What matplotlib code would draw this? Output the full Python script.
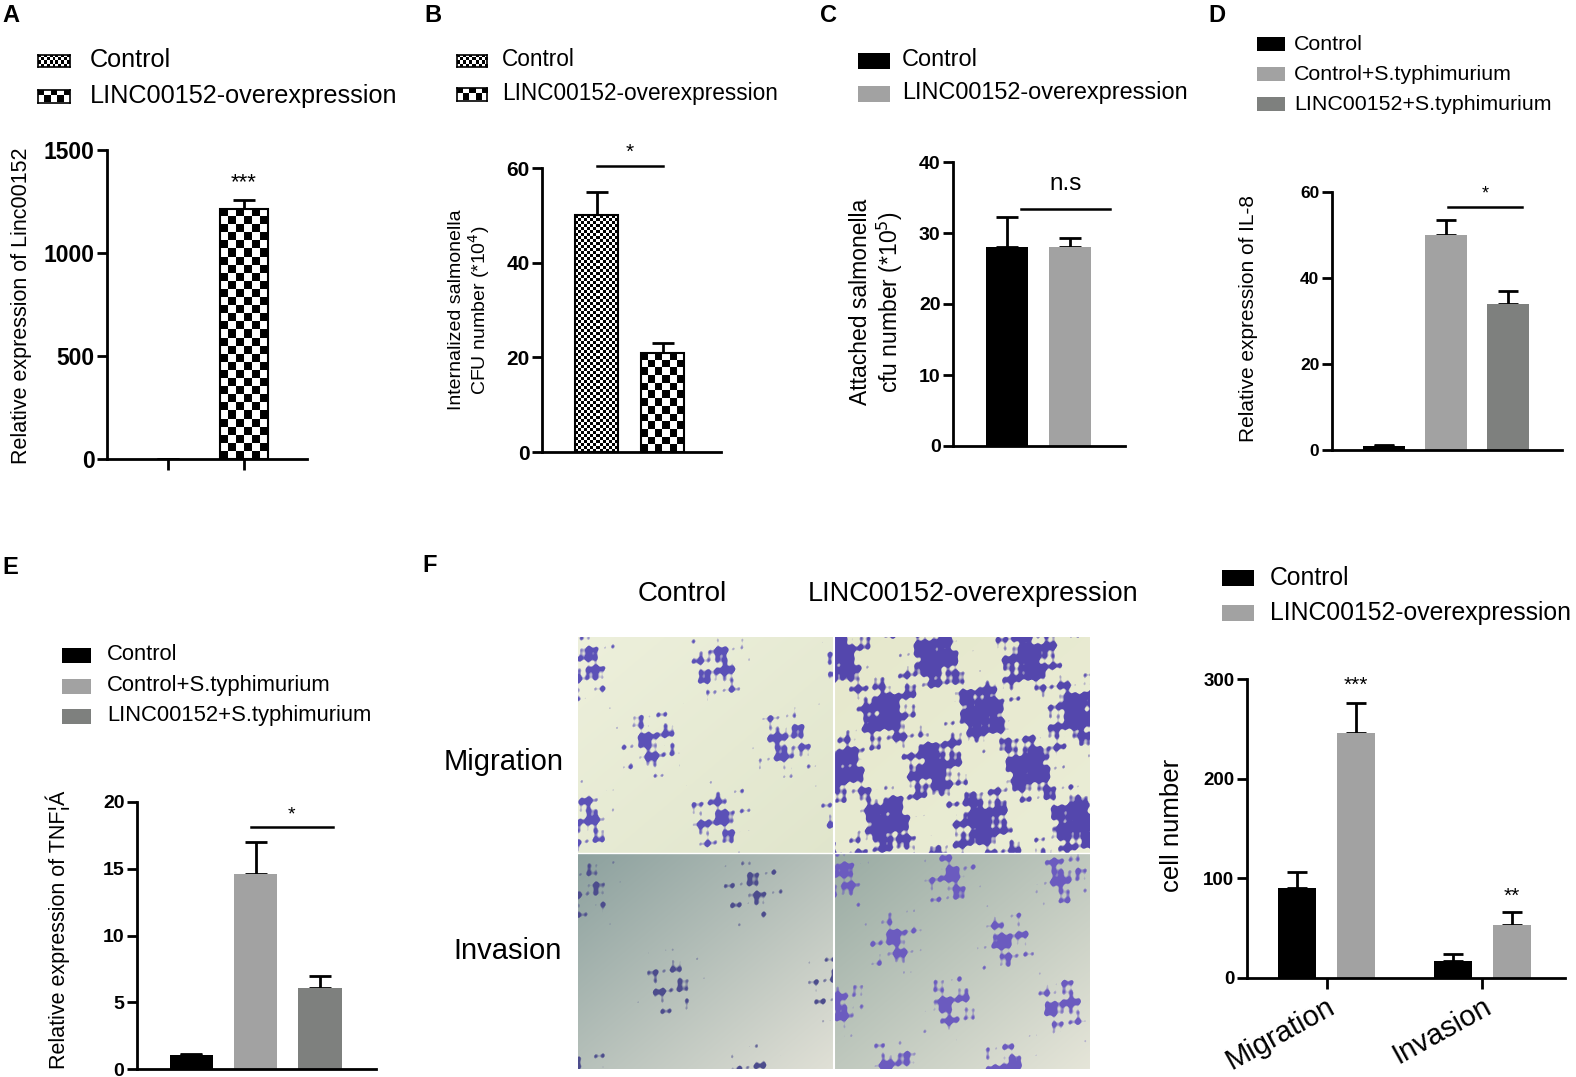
import numpy as np
import matplotlib
matplotlib.use("Agg")
import matplotlib.pyplot as plt
from matplotlib.patches import Rectangle

plt.rcParams["font.family"] = ["Liberation Sans", "DejaVu Sans"]

W, H = 1576, 1077
fig = plt.figure(figsize=(W / 100, H / 100), dpi=100)

# ---- data ----
a_groups = ["Control", "LINC00152-overexpression"]
a_vals = [1.0, 1215]
a_errs = [0.5, 40]

b_vals = [50, 21]
b_errs = [5, 2]

c_vals = [28, 28]
c_errs = [4.2, 1.3]

d_groups = ["Control", "Control+S.typhimurium", "LINC00152+S.typhimurium"]
d_vals = [1.0, 50, 34]
d_errs = [0.2, 3.5, 3.0]

e_vals = [1.05, 14.6, 6.1]
e_errs = [0.1, 2.4, 0.9]

f_cats = ["Migration", "Invasion"]
f_ctrl = [90, 17]
f_ctrl_err = [16, 7]
f_linc = [246, 53]
f_linc_err = [30, 13]

BLACK, LGREY, DGREY = "#000000", "#a2a2a2", "#7e807e"


def pax(l, t, r, b):
    return fig.add_axes([l / W, 1 - b / H, (r - l) / W, (b - t) / H])


def style(ax, ylim, yticks, fs, xlim, xticks=None):
    ax.set_xlim(*xlim)
    ax.set_ylim(*ylim)
    ax.set_autoscale_on(False)
    for s in ("top", "right"):
        ax.spines[s].set_visible(False)
    for s in ("left", "bottom"):
        ax.spines[s].set_linewidth(2)
    ax.set_yticks(yticks)
    ax.tick_params(axis="y", length=7, width=2, labelsize=fs, pad=2)
    for t in ax.get_yticklabels():
        t.set_fontweight("bold")
    if xticks is None:
        ax.set_xticks([])
    else:
        ax.set_xticks(xticks)
        ax.tick_params(axis="x", length=8, width=2)
    ax.patch.set_alpha(0)


def checker(ax, x0, w, h, cell):
    p0 = ax.transData.transform((x0, 0))
    p1 = ax.transData.transform((x0 + w, h))
    wpx, hpx = abs(p1[0] - p0[0]), abs(p1[1] - p0[1])
    if hpx < 1:
        return
    nc = max(1, round(wpx / cell))
    nr = max(1, round(hpx / cell))
    grid = np.add.outer(np.arange(nr), np.arange(nc)) % 2
    ax.imshow(grid, cmap="gray", extent=(x0, x0 + w, 0, h), origin="lower",
              interpolation="nearest", aspect="auto", zorder=2)
    ax.add_patch(Rectangle((x0, 0), w, h, fill=False, ec="black", lw=1.5, zorder=3))


def errs(ax, xs, vals, e, capsize):
    ax.errorbar(xs, vals, yerr=[np.zeros(len(e)), e], fmt="none", ecolor="black",
                elinewidth=2, capsize=capsize, capthick=2, zorder=1)


def sig(ax, x0, x1, y, label, fs, dy):
    ax.plot([x0, x1], [y, y], color="black", lw=1.8, clip_on=False)
    ax.text((x0 + x1) / 2, y + dy, label, ha="center", va="bottom", fontsize=fs, clip_on=False)


def leg_patch(l, y, r, h, face=None, cell=None):
    lx = pax(l, y - h / 2, r, y + h / 2)
    lx.set_xticks([]); lx.set_yticks([])
    if face is not None:
        lx.set_facecolor(face)
        for s in lx.spines.values():
            s.set_visible(False)
    else:
        wpx, hpx = r - l, h
        grid = np.add.outer(np.arange(round(hpx / cell)), np.arange(round(wpx / cell))) % 2
        lx.imshow(grid, cmap="gray", interpolation="nearest", aspect="auto")
        for s in lx.spines.values():
            s.set_linewidth(1.2)


def ftext(x, y, s, **kw):
    fig.text(x / W, 1 - y / H, s, **kw)


def letter(x, y, s):
    ftext(x, y, s, fontsize=17, fontweight="bold", ha="left", va="center")


# ---- A ----
ax = pax(107, 150, 307, 459)
style(ax, (0, 1500), [0, 500, 1000, 1500], 16.5, (-0.80, 1.83), xticks=[0, 1])
ax.set_xticklabels([])
wA = 0.63
errs(ax, [0, 1], a_vals, a_errs, 8)
for i, v in enumerate(a_vals):
    checker(ax, i - wA / 2, wA, v, 8 if i else 3)
ax.text(1, 1290, "***", ha="center", va="bottom", fontsize=16)
ftext(22, 306, "Relative expression of Linc00152", rotation=90, fontsize=15.5, ha="center", va="center")
leg_patch(38, 61, 70, 13, cell=3)
leg_patch(38, 96, 70, 13, cell=6.5)
ftext(90, 60, a_groups[0], fontsize=18.2, va="center")
ftext(90, 96, a_groups[1], fontsize=18.2, va="center")
letter(2, 15, "A")

# ---- B ----
ax = pax(542, 168, 721, 452)
style(ax, (0, 60), [0, 20, 40, 60], 15, (-0.83, 1.88))
wB = 0.65
errs(ax, [0, 1], b_vals, b_errs, 8)
for i, v in enumerate(b_vals):
    checker(ax, i - wB / 2, wB, v, 7.5 if i else 3)
sig(ax, 0, 1, 60.4, "*", 15, 1.0)
ftext(470, 310, "Internalized salmonella\nCFU number (*10$^4$)", rotation=90,
      fontsize=14, ha="center", va="center", linespacing=1.1)
leg_patch(457, 61, 487, 13, cell=3)
leg_patch(457, 94, 487, 13, cell=6.5)
ftext(502, 60, a_groups[0], fontsize=16.3, va="center")
ftext(502, 94, a_groups[1], fontsize=16.3, va="center")
letter(424, 15, "B")

# ---- C ----
ax = pax(953, 162, 1125, 446)
style(ax, (0, 40), [0, 10, 20, 30, 40], 14, (-0.86, 1.87))
wC = 0.67
errs(ax, [0, 1], c_vals, c_errs, 8)
ax.bar([0, 1], c_vals, wC, color=[BLACK, LGREY], zorder=2)
sig(ax, 0.22, 1.63, 33.4, "n.s", 17.5, 2.0)
ftext(877, 302, "Attached salmonella\ncfu number (*10$^5$)", rotation=90,
      fontsize=16.5, ha="center", va="center", linespacing=1.1)
leg_patch(858, 61, 890, 16, face=BLACK)
leg_patch(858, 94, 890, 16, face=LGREY)
ftext(902, 60, a_groups[0], fontsize=16.9, va="center")
ftext(902, 93, a_groups[1], fontsize=16.9, va="center")
letter(820, 15, "C")

# ---- D ----
ax = pax(1332, 192, 1562, 450)
style(ax, (0, 60), [0, 20, 40, 60], 12.5, (-0.84, 2.87))
wD = 0.68
errs(ax, [0, 1, 2], d_vals, d_errs, 7.5)
ax.bar([0, 1, 2], d_vals, wD, color=[BLACK, LGREY, DGREY], zorder=2)
sig(ax, 1.03, 2.22, 56.5, "*", 13, 1.0)
ftext(1249, 318, "Relative expression of IL-8", rotation=90, fontsize=15, ha="center", va="center")
for y, g, c in zip([44, 74, 104], d_groups, [BLACK, LGREY, DGREY]):
    leg_patch(1257, y, 1285, 14, face=c)
    ftext(1294, y, g, fontsize=15.4, va="center")
letter(1208, 15, "D")

# ---- E ----
ax = pax(137, 802, 376, 1069)
style(ax, (0, 20), [0, 5, 10, 15, 20], 14, (-0.84, 2.87))
wE = 0.67
errs(ax, [0, 1, 2], e_vals, e_errs, 8)
ax.bar([0, 1, 2], e_vals, wE, color=[BLACK, LGREY, DGREY], zorder=2)
sig(ax, 0.93, 2.2, 18.1, "*", 14, 0.3)
ftext(58, 930, "Relative expression of TNF¦Á", rotation=90, fontsize=15.5, ha="center", va="center")
for y, g, c in zip([655, 686, 716], d_groups, [BLACK, LGREY, DGREY]):
    leg_patch(62, y, 91, 15, face=c)
    ftext(107, y, g, fontsize=15.8, va="center")
letter(2, 568, "E")

# ---- F images (stand-in texture for the micrographs) ----
def micro(h, w, base0, base1, cell_rgb, thr, k):
    yy, xx = np.mgrid[0:h, 0:w].astype(float)
    t = (xx / w + yy / h) / 2
    img = (1 - t)[..., None] * np.array(base0) + t[..., None] * np.array(base1)
    f = (np.sin(xx * 0.047 * k + 1.3) * np.sin(yy * 0.041 * k + 0.4)
         + 0.55 * np.sin(xx * 0.17 + yy * 0.11 + k) * np.sin(xx * 0.07 - yy * 0.19 + 0.5)
         + 0.35 * np.sin(0.41 * xx + 0.33 * yy) * np.sin(0.37 * xx - 0.29 * yy + k))
    m = np.clip((f - thr) * 4, 0, 1)[..., None]
    return img * (1 - m) + np.array(cell_rgb) * m


ph, pw = 216, 256
top = np.concatenate([
    micro(ph, pw, (0.93, 0.94, 0.86), (0.88, 0.90, 0.80), (0.36, 0.32, 0.72), 0.75, 1.0),
    micro(ph, pw, (0.90, 0.91, 0.80), (0.92, 0.93, 0.84), (0.33, 0.28, 0.68), 0.05, 1.4)], axis=1)
bot = np.concatenate([
    micro(ph, pw, (0.55, 0.63, 0.62), (0.88, 0.88, 0.84), (0.30, 0.30, 0.55), 1.05, 0.8),
    micro(ph, pw, (0.60, 0.67, 0.64), (0.90, 0.90, 0.85), (0.42, 0.36, 0.75), 0.7, 1.2)], axis=1)
photo = np.concatenate([top, bot], axis=0)
ix = pax(578, 637, 1090, 1069)
ix.imshow(photo, interpolation="bilinear", aspect="auto")
ix.axvline(pw - 0.5, color="white", lw=1.5)
ix.axhline(ph - 0.5, color="white", lw=1.0)
ix.axis("off")
ftext(682, 594, "Control", fontsize=20, ha="center", va="center")
ftext(973, 594, "LINC00152-overexpression", fontsize=19.5, ha="center", va="center")
ftext(504, 762, "Migration", fontsize=21, ha="center", va="center")
ftext(508, 951, "Invasion", fontsize=21, ha="center", va="center")
letter(422, 566, "F")

# ---- F chart ----
ax = pax(1247, 679, 1565, 978)
style(ax, (0, 300), [0, 100, 200, 300], 13.5, (-0.51, 1.53), xticks=[0, 1])
bw, off = 0.245, 0.19
xs = np.arange(len(f_cats))
errs(ax, xs - off, f_ctrl, f_ctrl_err, 7)
errs(ax, xs + off, f_linc, f_linc_err, 7)
ax.bar(xs - off, f_ctrl, bw, color=BLACK, zorder=2)
ax.bar(xs + off, f_linc, bw, color=LGREY, zorder=2)
ax.tick_params(axis="x", pad=2)
ax.set_xticklabels(f_cats, rotation=29, ha="right", va="top", rotation_mode="anchor", fontsize=21)
ax.text(0 + off, 284, "***", ha="center", va="bottom", fontsize=15)
ax.text(1 + off, 72, "**", ha="center", va="bottom", fontsize=15)
ftext(1172, 825, "cell number", rotation=90, fontsize=18.5, ha="center", va="center")
leg_patch(1222, 578, 1254, 16, face=BLACK)
leg_patch(1222, 613, 1254, 16, face=LGREY)
ftext(1270, 578, "Control", fontsize=17.8, va="center")
ftext(1270, 613, "LINC00152-overexpression", fontsize=17.8, va="center")

fig.savefig("out.png", dpi=100)
